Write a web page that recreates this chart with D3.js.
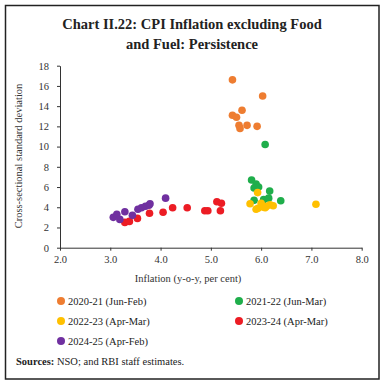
<!DOCTYPE html>
<html>
<head>
<meta charset="utf-8">
<script src="https://cdn.jsdelivr.net/npm/d3@7"></script>
<style>
  body { margin: 0; background: #fff; }
  svg { display: block; }
  .tick text { font-family: "Liberation Serif", serif; font-size: 10.5px; fill: #333; }
  .axis path, .axis line { stroke: #333; }
</style>
</head>
<body>
<svg id="chart" width="385" height="385"></svg>
<script>
// series values: [inflation, cross-sectional std dev]
const fy2021 = [[5.43,16.6],[6.03,15.0],[5.62,13.6],[5.43,13.1],[5.51,12.9],[5.56,12.1],[5.58,11.8],[5.72,12.1],[5.92,12.0]];
const fy2122 = [[6.08,10.2],[5.81,6.7],[5.90,6.3],[5.86,5.9],[5.95,6.0],[6.17,5.6],[6.39,4.65],[5.86,4.7],[6.05,4.75],[6.15,4.9]];
const fy2223 = [[5.78,4.35],[5.93,5.45],[5.94,3.9],[5.90,3.8],[6.01,4.2],[6.05,4.0],[6.11,4.1],[6.0,4.4],[6.18,4.25],[6.24,4.15],[6.08,3.95],[7.09,4.3]];
const fy2324 = [[3.29,2.5],[3.38,2.6],[3.54,2.9],[3.78,3.4],[4.05,3.5],[4.24,3.95],[4.53,3.95],[4.88,3.65],[4.94,3.65],[5.12,4.55],[5.21,4.4],[5.19,3.65]];
const fy2425 = [[3.06,3.0],[3.13,3.3],[3.19,2.8],[3.29,3.55],[3.44,3.2],[3.55,3.8],[3.62,3.95],[3.70,4.1],[3.77,4.2],[3.79,4.35],[4.10,4.9]];

const seriesNames = ["2020-21 (Jun-Feb)", "2021-22 (Jun-Mar)", "2022-23 (Apr-Mar)", "2023-24 (Apr-Mar)", "2024-25 (Apr-Feb)"];
const seriesData = [fy2021, fy2122, fy2223, fy2324, fy2425];
const colors = ["#ee7d31", "#1fae4b", "#ffc000", "#ec1c24", "#7030a0"];

const xTicks = [2, 3, 4, 5, 6, 7, 8];
const yTicks = [0, 2, 4, 6, 8, 10, 12, 14, 16, 18];

const svg = d3.select("#chart");

// frame
svg.append("rect")
  .attr("x", 5.5).attr("y", 5.5)
  .attr("width", 373.5).attr("height", 373.5)
  .attr("fill", "none").attr("stroke", "#222").attr("stroke-width", 1.5);

// title
const title = svg.append("text")
  .attr("text-anchor", "middle")
  .attr("font-family", "Liberation Serif, serif")
  .attr("font-weight", "bold")
  .attr("font-size", 14.5)
  .attr("fill", "#222");
title.append("tspan").attr("x", 192).attr("y", 29).text("Chart II.22: CPI Inflation excluding Food");
title.append("tspan").attr("x", 192).attr("y", 49).text("and Fuel: Persistence");

const x = d3.scaleLinear().domain([2, 8]).range([60, 361.7]);
const y = d3.scaleLinear().domain([0, 18]).range([247.7, 65.7]);

svg.append("g")
  .attr("class", "axis")
  .attr("transform", "translate(0,247.7)")
  .call(d3.axisBottom(x).tickValues(xTicks).tickFormat(d3.format(".1f")).tickSize(3).tickSizeOuter(0).tickPadding(5));

svg.append("g")
  .attr("class", "axis")
  .attr("transform", "translate(60,0)")
  .call(d3.axisLeft(y).tickValues(yTicks).tickSize(3).tickSizeOuter(0).tickPadding(8));

svg.append("text")
  .attr("transform", "translate(22,156) rotate(-90)")
  .attr("text-anchor", "middle")
  .attr("font-family", "Liberation Serif, serif")
  .attr("font-size", 10.5)
  .attr("fill", "#333")
  .text("Cross-sectional standard deviation");

svg.append("text")
  .attr("x", 188).attr("y", 282)
  .attr("text-anchor", "middle")
  .attr("font-family", "Liberation Serif, serif")
  .attr("font-size", 10.5)
  .attr("fill", "#333")
  .text("Inflation (y-o-y, per cent)");

// points
seriesData.forEach((data, i) => {
  svg.append("g").selectAll("circle")
    .data(data)
    .join("circle")
      .attr("cx", d => x(d[0]))
      .attr("cy", d => y(d[1]))
      .attr("r", 3.8)
      .attr("fill", colors[i]);
});

// legend
const legend = svg.append("g");
seriesNames.forEach((name, i) => {
  const lx = i % 2 === 0 ? 61 : 239;
  const ly = 301 + Math.floor(i / 2) * 20;
  legend.append("circle").attr("cx", lx).attr("cy", ly).attr("r", 4).attr("fill", colors[i]);
  legend.append("text")
    .attr("x", lx + 7).attr("y", ly + 3.5)
    .attr("font-family", "Liberation Serif, serif")
    .attr("font-size", 10.5)
    .attr("fill", "#222")
    .text(name);
});

// sources
const src = svg.append("text")
  .attr("x", 16).attr("y", 365)
  .attr("font-family", "Liberation Serif, serif")
  .attr("font-size", 10.5)
  .attr("fill", "#222");
src.append("tspan").attr("font-weight", "bold").text("Sources:");
src.append("tspan").text(" NSO; and RBI staff estimates.");
</script>
</body>
</html>
